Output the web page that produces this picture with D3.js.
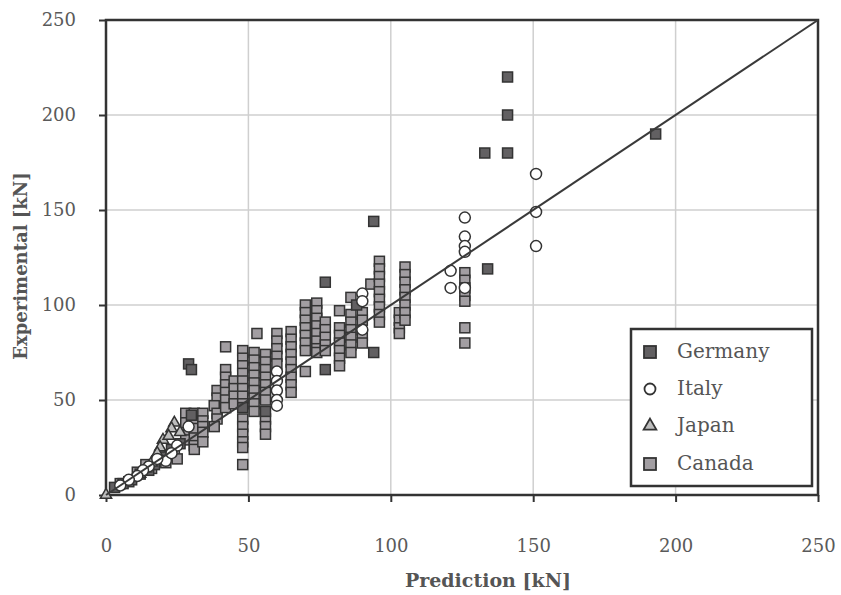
<!DOCTYPE html>
<html>
<head>
<meta charset="utf-8">
<script src="https://cdn.jsdelivr.net/npm/d3@7"></script>
<style>
  body { margin: 0; background: #fff; }
  text { font-family: "DejaVu Serif", "Liberation Serif", serif; }
</style>
</head>
<body>
<div id="chart"></div>
<script>
// data: [prediction kN, experimental kN]
const germany = [
  [141, 220], [141, 200], [141, 180], [133, 180], [193, 190], [134, 119],
  [94, 144], [77, 112], [94, 75], [77, 66], [29, 69], [30, 66],
  [3, 4], [6, 6], [9, 8], [12, 11], [15, 13], [17, 16], [20, 20],
  [23, 24], [26, 27], [30, 42], [88, 100], [48, 46], [56, 44]
];
const italy = [
  [151, 169], [151, 149], [151, 131], [126, 146], [126, 136], [126, 131],
  [126, 128], [121, 118], [121, 109], [126, 109], [90, 106], [90, 102],
  [90, 87], [60, 65], [60, 60], [60, 55], [60, 50], [60, 47], [29, 36],
  [25, 26], [21, 18], [15, 15], [13, 13], [11, 10], [8, 8], [5, 5],
  [18, 19], [23, 22]
];
const japan = [
  [0, 0], [24, 38], [23, 35], [20, 29], [19, 25], [16, 17], [14, 14],
  [22, 31], [26, 33], [12, 11], [18, 22]
];
const canada = [
  [5, 6], [8, 7], [11, 12], [14, 16], [16, 14], [19, 21], [21, 17], [24, 22], [25, 19],
  [28, 43], [28, 38], [29, 33], [28, 29],
  [31, 43], [31, 39], [31, 35], [31, 30], [31, 26], [31, 24],
  [34, 43], [34, 39], [34, 36], [34, 33], [34, 28],
  [39, 55], [39, 51], [38, 47], [39, 43], [39, 40], [38, 36],
  [42, 78], [42, 66], [42, 62], [42, 58], [42, 54], [42, 50], [42, 46],
  [45, 60], [45, 56], [45, 52], [45, 48],
  [48, 76], [48, 72], [48, 68], [48, 64], [48, 60], [48, 56], [48, 52], [48, 48],
  [48, 40], [48, 36], [48, 32], [48, 28], [48, 25], [48, 16],
  [52, 75], [52, 71], [52, 67], [52, 63], [52, 59], [52, 55], [52, 51], [52, 48], [52, 44],
  [53, 85],
  [56, 74], [56, 70], [56, 66], [56, 62], [56, 58], [56, 54], [56, 50], [56, 40], [56, 36], [56, 32],
  [60, 85], [60, 81], [60, 77], [60, 73], [60, 69],
  [65, 86], [65, 82], [65, 78], [65, 74], [65, 70], [65, 66], [65, 62], [65, 58], [65, 54],
  [70, 100], [70, 96], [70, 92], [70, 88], [70, 84], [70, 80], [70, 76], [70, 65],
  [74, 101], [74, 97], [74, 93], [74, 89], [74, 85], [74, 81], [74, 77], [74, 75],
  [77, 91], [77, 87], [77, 83], [77, 79], [77, 76],
  [82, 97], [82, 88], [82, 84], [82, 80], [82, 76], [82, 72], [82, 68],
  [86, 104], [86, 95], [86, 91], [86, 87], [86, 83], [86, 79], [86, 75],
  [90, 96], [90, 92], [90, 84], [90, 80], [93, 111],
  [96, 123], [96, 119], [96, 115], [96, 111], [96, 107], [96, 103], [96, 99], [96, 95], [96, 91],
  [103, 96], [103, 92], [103, 88], [103, 85],
  [105, 120], [105, 116], [105, 112], [105, 108], [105, 104], [105, 100], [105, 96], [105, 92],
  [126, 117], [126, 113], [126, 109], [126, 105], [126, 102], [126, 88], [126, 80]
];
const ticks = [0, 50, 100, 150, 200, 250];
const legendNames = ["Germany", "Italy", "Japan", "Canada"];

const w = 841, h = 595;
const pLeft = 106, pRight = 818, pTop = 20, pBottom = 495;

const x = d3.scaleLinear().domain([0, 250]).range([pLeft, pRight]);
const y = d3.scaleLinear().domain([0, 250]).range([pBottom, pTop]);

const svg = d3.select("#chart").append("svg")
  .attr("width", w)
  .attr("height", h);

// grid
svg.append("g").selectAll("line")
  .data(ticks.slice(1, -1))
  .enter().append("line")
  .attr("x1", d => x(d)).attr("x2", d => x(d))
  .attr("y1", pTop).attr("y2", pBottom)
  .attr("stroke", "#cfcfcf").attr("stroke-width", 1.5);
svg.append("g").selectAll("line")
  .data(ticks.slice(1, -1))
  .enter().append("line")
  .attr("x1", pLeft).attr("x2", pRight)
  .attr("y1", d => y(d)).attr("y2", d => y(d))
  .attr("stroke", "#cfcfcf").attr("stroke-width", 1.5);

// axes
const xAxis = d3.axisBottom(x).tickValues(ticks).tickSize(7).tickPadding(37);
const yAxis = d3.axisLeft(y).tickValues(ticks).tickSize(7).tickPadding(23);

const gx = svg.append("g").attr("transform", `translate(0, ${pBottom})`).call(xAxis);
const gy = svg.append("g").attr("transform", `translate(${pLeft}, 0)`).call(yAxis);
[gx, gy].forEach(g => {
  g.select(".domain").remove();
  g.selectAll(".tick line").attr("stroke", "#333").attr("stroke-width", 2);
  g.selectAll(".tick text")
    .style("font-family", "'DejaVu Serif', serif")
    .style("font-size", "18px")
    .attr("fill", "#5a5a5a");
});

// frame
svg.append("rect")
  .attr("x", pLeft).attr("y", pTop)
  .attr("width", pRight - pLeft).attr("height", pBottom - pTop)
  .attr("fill", "none").attr("stroke", "#333").attr("stroke-width", 2.5);

const sq = 10;
const drawSquares = (data, fill) => {
  svg.append("g").selectAll("rect")
    .data(data)
    .enter().append("rect")
    .attr("x", d => x(d[0]) - sq / 2)
    .attr("y", d => y(d[1]) - sq / 2)
    .attr("width", sq).attr("height", sq)
    .attr("fill", fill)
    .attr("stroke", "#333")
    .attr("stroke-width", 1.5);
};

drawSquares(canada, "#a29ea2");
drawSquares(germany, "#626062");

svg.append("g").selectAll("path")
  .data(japan)
  .enter().append("path")
  .attr("d", d3.symbol().type(d3.symbolTriangle).size(55))
  .attr("transform", d => `translate(${x(d[0])}, ${y(d[1])})`)
  .attr("fill", "#bdbdbd")
  .attr("stroke", "#333")
  .attr("stroke-width", 1.5);

svg.append("g").selectAll("circle")
  .data(italy)
  .enter().append("circle")
  .attr("cx", d => x(d[0]))
  .attr("cy", d => y(d[1]))
  .attr("r", 5.5)
  .attr("fill", "#fff")
  .attr("stroke", "#333")
  .attr("stroke-width", 1.5);

// 1:1 line
svg.append("line")
  .attr("x1", x(0)).attr("y1", y(0))
  .attr("x2", x(250)).attr("y2", y(250))
  .attr("stroke", "#3a3a3a").attr("stroke-width", 2);

// titles
svg.append("text")
  .attr("x", 488).attr("y", 587)
  .attr("text-anchor", "middle")
  .style("font-size", "19px").style("font-weight", "bold")
  .attr("fill", "#555")
  .text("Prediction [kN]");
svg.append("text")
  .attr("transform", "translate(27, 266) rotate(-90)")
  .attr("text-anchor", "middle")
  .style("font-size", "18px").style("font-weight", "bold")
  .attr("fill", "#555")
  .text("Experimental [kN]");

// legend
const lg = svg.append("g");
lg.append("rect")
  .attr("x", 631).attr("y", 329)
  .attr("width", 181).attr("height", 157)
  .attr("fill", "#fff").attr("stroke", "#333").attr("stroke-width", 2.5);
const ly = [352, 389, 426, 464];
legendNames.forEach((name, i) => {
  const cy = ly[i];
  if (name === "Germany" || name === "Canada") {
    lg.append("rect")
      .attr("x", 650 - 6).attr("y", cy - 6).attr("width", 12).attr("height", 12)
      .attr("fill", name === "Germany" ? "#626062" : "#a29ea2")
      .attr("stroke", "#333").attr("stroke-width", 1.8);
  } else if (name === "Italy") {
    lg.append("circle").attr("cx", 650).attr("cy", cy).attr("r", 5.5)
      .attr("fill", "#fff").attr("stroke", "#333").attr("stroke-width", 1.8);
  } else {
    lg.append("path")
      .attr("d", d3.symbol().type(d3.symbolTriangle).size(70))
      .attr("transform", `translate(650, ${cy})`)
      .attr("fill", "#bdbdbd").attr("stroke", "#333").attr("stroke-width", 1.8);
  }
  lg.append("text")
    .attr("x", 677).attr("y", cy + 6)
    .style("font-size", "20px")
    .attr("fill", "#555")
    .text(name);
});
</script>
</body>
</html>
